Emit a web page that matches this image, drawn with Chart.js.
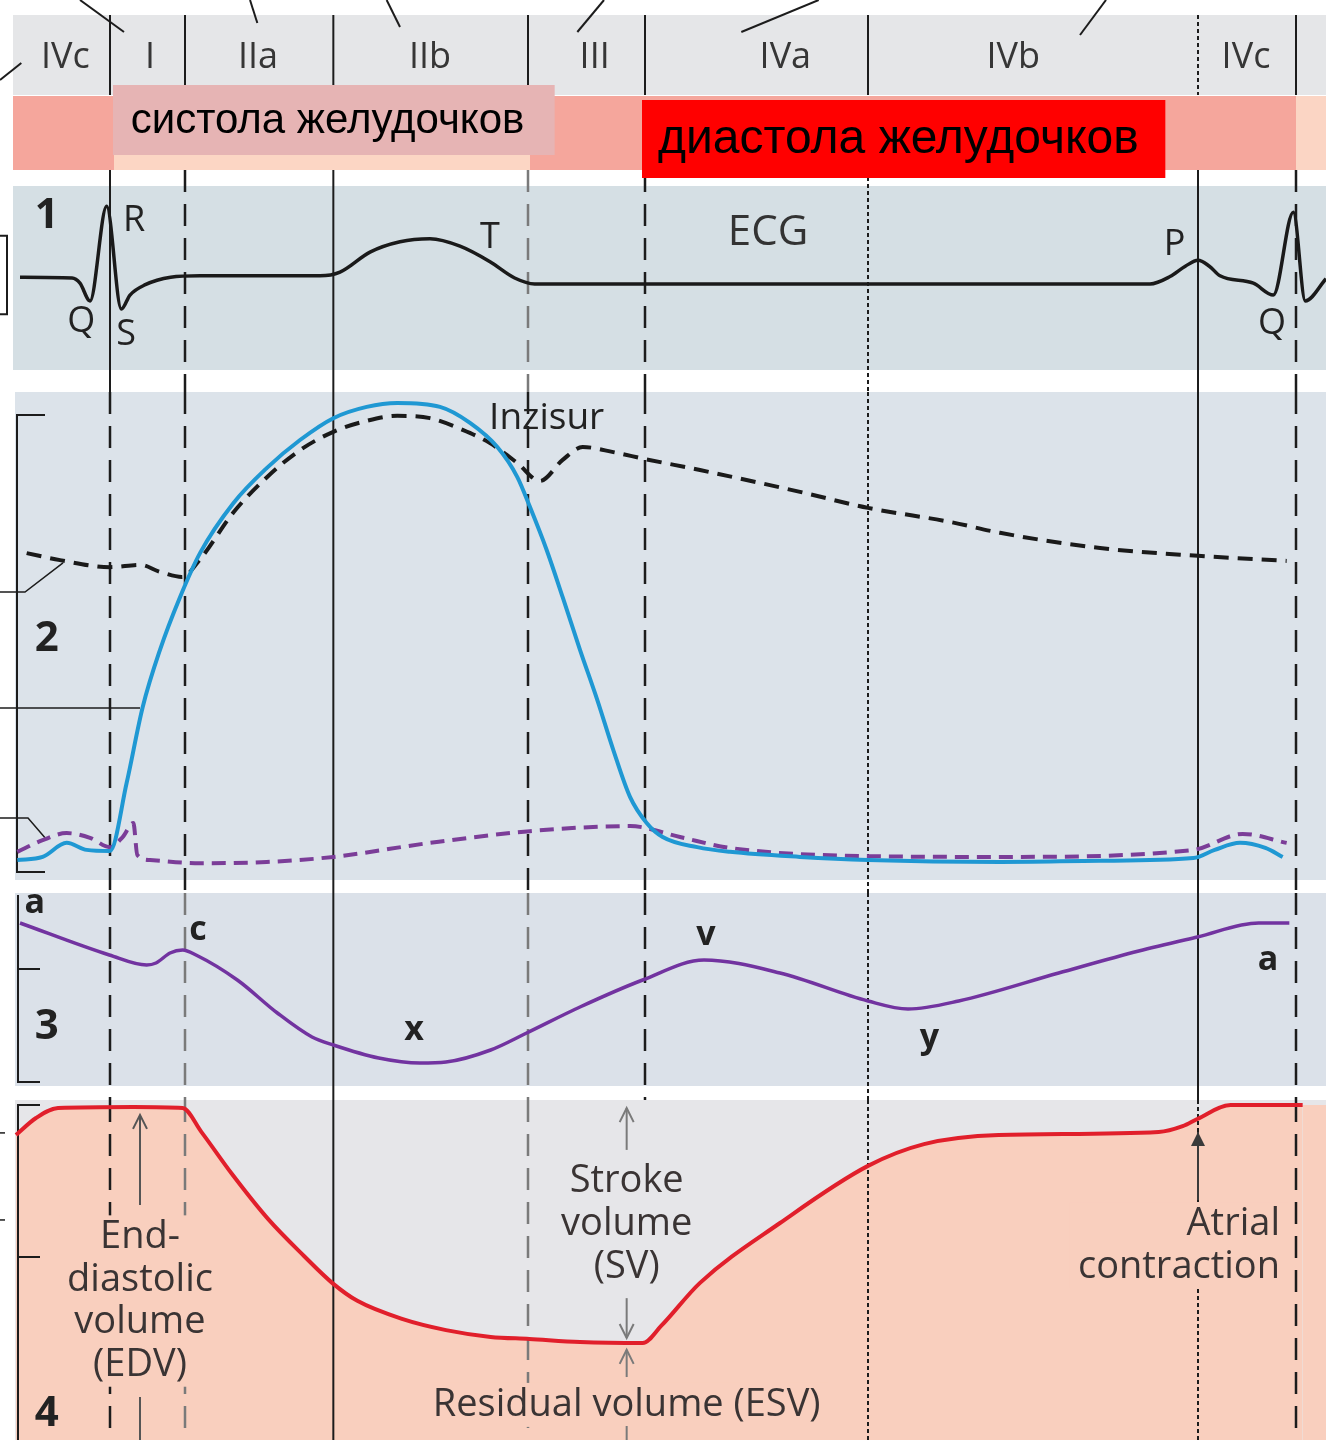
<!DOCTYPE html>
<html>
<head>
<meta charset="utf-8">
<script src="https://cdn.jsdelivr.net/npm/chart.js@4.4.1/dist/chart.umd.min.js"></script>
<style>
  html, body { margin: 0; padding: 0; background: #fff; }
  canvas { display: block; }
</style>
</head>
<body>
<canvas id="wiggers" width="1326" height="1440"></canvas>
<script>
// phases of the cycle, time in ms
const phaseNames = ['IVc', 'I', 'IIa', 'IIb', 'III', 'IVa', 'IVb', 'IVc']
const phaseCentres = [49, 112.5, 193.5, 322.5, 446, 589, 760, 934.5]
const phaseBounds = [82.5, 138.75, 250, 396, 483.75, 651, 898.5, 972]

// 1: ECG (mV)
const ecgTime = [15, 54, 60, 67.5, 80, 91, 97.5, 109, 128, 150, 240, 255, 277.5, 300, 322.5, 345, 367.5, 386, 401, 525, 862.5, 877.5, 889, 898.5, 907, 915, 940, 955, 970, 979, 994.5]
const ecgMv = [0.05, 0.04, -0.03, -0.27, 1.01, -0.38, -0.19, -0.05, 0.05, 0.07, 0.07, 0.12, 0.39, 0.53, 0.57, 0.47, 0.26, 0.04, -0.04, -0.04, -0.04, 0.06, 0.2, 0.28, 0.2, 0.07, -0.03, -0.19, 0.93, -0.27, 0.03]

// 2: pressures (mmHg)
const lvTime = [13, 32, 50, 65, 82.5, 95, 107, 120, 135, 150, 175, 200, 225, 250, 275, 298, 330, 352.5, 373, 388, 397.5, 410, 422, 435, 448, 460, 472.5, 485, 497, 523, 547.5, 600, 651, 750, 825, 895, 911, 930, 949, 962]
const lvPressure = [6.4, 7.2, 10.8, 9.0, 8.7, 26.2, 45.6, 60.3, 73.8, 85.1, 97.9, 106.9, 114.1, 119.7, 122.6, 123.6, 122.6, 118.5, 112.3, 104.6, 96.9, 85.9, 73.8, 60.3, 47.4, 34.6, 22.6, 15.9, 12.3, 9.7, 8.5, 7.2, 6.4, 5.9, 6.2, 6.9, 9.0, 10.8, 9.5, 7.2]

const aortaTime = [20, 45, 82.5, 105, 120, 136.5, 150, 175, 200, 225, 250, 275, 298, 322.5, 347, 367.5, 388, 405, 422, 437, 460, 484, 525, 600, 651, 712.5, 750, 825, 898.5, 965]
const aortaPressure = [85.1, 83.3, 81.5, 82.1, 80.3, 79.0, 83.5, 95.5, 104.5, 111.5, 116.2, 119.0, 120.3, 119.7, 116.7, 113.3, 108.2, 103.6, 109.0, 112.3, 111.0, 109.2, 106.4, 100.8, 96.7, 93.1, 90.3, 86.4, 84.4, 83.1]

const laTime = [13, 32, 50, 67.5, 82.5, 92, 100, 103, 112.5, 150, 200, 250, 322.5, 397.5, 472.5, 510, 547.5, 651, 750, 895, 932, 965]
const laPressure = [8.5, 11.5, 13.3, 12.1, 9.7, 12.3, 15.9, 7.7, 6.4, 5.6, 5.9, 7.2, 10.8, 13.8, 15.1, 12.3, 9.5, 7.4, 7.2, 9.0, 13.1, 10.8]

// 3: atrial pressure (mmHg)
const atrialTime = [15, 82, 110, 117, 127.5, 137, 147, 178, 208, 234, 250, 284, 315, 334.5, 368, 395, 435, 482, 528, 585, 651, 681, 719, 794, 854, 898, 944, 967]
const atrialPressure = [8.85, 7.25, 6.75, 6.85, 7.35, 7.5, 7.25, 6.0, 4.35, 3.15, 2.75, 2.1, 1.85, 1.9, 2.5, 3.35, 4.65, 6.0, 7.0, 6.35, 4.95, 4.55, 4.95, 6.35, 7.45, 8.15, 8.85, 8.85]

// 4: ventricular volume (ml)
const volTime = [12, 27, 43.5, 100.5, 137, 151, 174, 201, 228, 250, 268, 301.5, 334.5, 368, 397, 435, 482, 496, 525, 585, 651, 693, 749, 869, 887, 898, 923, 977, 994.5]
const volMl = [120.6, 125.6, 128.5, 128.8, 128.5, 121.5, 109.1, 95.9, 85.0, 76.8, 71.8, 66.5, 63.2, 61.2, 60.6, 59.7, 59.4, 64.5, 77.1, 94.7, 111.5, 117.9, 120.6, 121.5, 123.2, 125.3, 129.4, 129.4, 129.4]

const pts = (xs, ys) => xs.map((x, i) => ({ x: x, y: ys[i] }))

const X = (c, t) => c.scales.x.getPixelForValue(t)
const Y = (c, id, v) => c.scales[id].getPixelForValue(v)

function rect(ctx, x0, y0, x1, y1, color) {
    ctx.fillStyle = color
    ctx.fillRect(x0, y0, x1 - x0, y1 - y0)
}

function poly(c, id, points, width, color) {
    const ctx = c.ctx
    ctx.setLineDash([])
    ctx.lineWidth = width
    ctx.strokeStyle = color
    ctx.beginPath()
    points.forEach(([t, v], i) => {
        if (i === 0) ctx.moveTo(X(c, t), Y(c, id, v))
        else ctx.lineTo(X(c, t), Y(c, id, v))
    })
    ctx.stroke()
}

function text(ctx, str, x, y, font, color, align = 'center') {
    ctx.font = font
    ctx.fillStyle = color
    ctx.textAlign = align
    ctx.textBaseline = 'middle'
    ctx.fillText(str, x, y)
}

// lines of text, optionally on a patch of background so the phase lines stop there
function textBlock(c, lines, t, id, values, font, color, align, halo) {
    const ctx = c.ctx
    const x = X(c, t)
    const ys = values.map(v => Y(c, id, v))
    ctx.font = font
    if (halo) {
        const w = Math.max(...lines.map(l => ctx.measureText(l).width))
        const x0 = align === 'right' ? x - w : align === 'left' ? x : x - w / 2
        const step = ys.length > 1 ? ys[1] - ys[0] : 44
        rect(ctx, x0 - 8, ys[0] - step / 2, x0 + w + 8, ys[ys.length - 1] + step / 2, halo)
    }
    lines.forEach((l, i) => text(ctx, l, x, ys[i], font, color, align))
}

function arrow(c, t, from, to, color, filled) {
    const ctx = c.ctx
    const x = X(c, t)
    const y0 = Y(c, 'vol', from)
    const y1 = Y(c, 'vol', to)
    const d = y1 < y0 ? 1 : -1
    ctx.setLineDash([])
    ctx.strokeStyle = color
    ctx.fillStyle = color
    ctx.lineWidth = 2
    ctx.beginPath()
    ctx.moveTo(x, y0)
    ctx.lineTo(x, y1)
    ctx.stroke()
    ctx.beginPath()
    ctx.moveTo(x - 7, y1 + 14 * d)
    ctx.lineTo(x, y1)
    ctx.lineTo(x + 7, y1 + 14 * d)
    if (filled) {
        ctx.closePath()
        ctx.fill()
    } else ctx.stroke()
}

const lineStyles = {
    solid: { dash: [], width: 2, color: '#1c1c1c' },
    dash: { dash: [22, 12], width: 2.5, color: '#1c1c1c' },
    grey: { dash: [22, 12], width: 2.5, color: '#7a7a7a' },
    dot: { dash: [4, 3], width: 2, color: '#1c1c1c' }
}
// per phase boundary: header, ECG, pressure, atrial, volume
const boundaryStyles = [
    ['solid', 'solid', 'dash', 'dash', 'dash'],
    ['solid', 'dash', 'dash', 'grey', 'grey'],
    ['solid', 'solid', 'solid', 'solid', 'solid'],
    ['solid', 'grey', 'dash', 'grey', 'grey'],
    ['solid', 'dash', 'dash', 'dash', null],
    ['solid', 'dot', 'dot', 'dot', 'dot'],
    ['dot', 'solid', 'solid', 'solid', 'dot'],
    ['solid', 'dash', 'dash', 'dash', 'dash']
]

const salmon = '#f9cfbe'
const ink = '#3a3434'
const labelFont = '"Open Sans", "DejaVu Sans", sans-serif'

const figure = {
    id: 'figure',
    beforeDraw(c) {
        const ctx = c.ctx
        const s = c.scales
        const right = c.width
        ctx.save()
        rect(ctx, 0, 0, right, c.height, '#ffffff')
        rect(ctx, X(c, 9.75), Y(c, 'head', 15), right, Y(c, 'head', 95), '#e5e6e8')
        rect(ctx, X(c, 9.75), Y(c, 'head', 96), X(c, 972), Y(c, 'head', 170), '#f5a69c')
        rect(ctx, X(c, 972), Y(c, 'head', 96), right, Y(c, 'head', 170), '#fbd5c4')
        rect(ctx, X(c, 85.5), Y(c, 'head', 155), X(c, 397.5), Y(c, 'head', 170), '#fcd6c4')
        rect(ctx, X(c, 9.75), s.ecg.top, right, s.ecg.bottom, '#d5dfe4')
        rect(ctx, X(c, 11.25), s.press.top, right, s.press.bottom, '#dce3ea')
        rect(ctx, X(c, 11.25), s.atrial.top, right, s.atrial.bottom, '#dbe1e9')
        rect(ctx, X(c, 11.25), s.vol.top, right, s.vol.bottom, '#e6e6e9')
        ctx.restore()
    },
    beforeDatasetsDraw(c) {
        const ctx = c.ctx
        const s = c.scales
        const rows = [
            [Y(c, 'head', 15), Y(c, 'head', 95)],
            [Y(c, 'head', 170), s.press.top],
            [s.press.top, s.atrial.top],
            [s.atrial.top, s.vol.top],
            [s.vol.top, c.height]
        ]
        ctx.save()
        phaseBounds.forEach((t, i) => {
            const x = X(c, t)
            boundaryStyles[i].forEach((name, r) => {
                if (!name) return
                const st = lineStyles[name]
                ctx.setLineDash(st.dash)
                ctx.lineWidth = st.width
                ctx.strokeStyle = st.color
                ctx.beginPath()
                ctx.moveTo(x, rows[r][0])
                ctx.lineTo(x, rows[r][1])
                ctx.stroke()
            })
        })

        // leader lines from the cut-off labels above
        const lead = '#1c1c1c'
        poly(c, 'head', [[60, 0], [93, 32]], 2, lead)
        poly(c, 'head', [[187.5, 0], [193, 23]], 2, lead)
        poly(c, 'head', [[290, 0], [300, 27]], 2, lead)
        poly(c, 'head', [[453, 0], [433, 32]], 2, lead)
        poly(c, 'head', [[614, 0], [556, 32]], 2, lead)
        poly(c, 'head', [[829.5, 0], [810, 35]], 2, lead)
        poly(c, 'head', [[0, 80], [16, 63]], 2, lead)

        // left brackets and leaders
        poly(c, 'ecg', [[0, 0.61], [5.25, 0.61], [5.25, -0.45], [0, -0.45]], 2, lead)
        poly(c, 'press', [[33.75, 120.5], [12.75, 120.5], [12.75, 3.3], [33.75, 3.3]], 2, lead)
        poly(c, 'press', [[0, 75.1], [18.75, 75.1], [47.25, 82.6]], 1.5, lead)
        poly(c, 'press', [[0, 45.4], [105, 45.4]], 1.5, lead)
        poly(c, 'press', [[0, 17.2], [21, 17.2], [33.75, 12.1]], 1.5, lead)
        poly(c, 'atrial', [[13.5, 10.25], [13.5, 0.9], [30, 0.9]], 2, lead)
        poly(c, 'atrial', [[13.5, 6.55], [30, 6.55]], 2, lead)
        poly(c, 'vol', [[30, 129.4], [13.5, 129.4], [13.5, 30.88]], 2, lead)
        poly(c, 'vol', [[13.5, 84.7], [30, 84.7]], 2, lead)
        poly(c, 'vol', [[0, 121.2], [3.75, 121.2]], 1.5, lead)
        poly(c, 'vol', [[0, 95.6], [3.75, 95.6]], 1.5, lead)
        ctx.restore()
    },
    afterDatasetsDraw(c) {
        const ctx = c.ctx
        ctx.save()

        // header
        rect(ctx, X(c, 84.75), Y(c, 'head', 85), X(c, 416), Y(c, 'head', 155), '#e6b4b4')
        text(ctx, 'систола желудочков', X(c, 98), Y(c, 'head', 121), '42px "Liberation Sans", Arial, sans-serif', '#000', 'left')
        rect(ctx, X(c, 481.5), Y(c, 'head', 100), X(c, 874), Y(c, 'head', 178), '#ff0000')
        text(ctx, 'диастола желудочков', X(c, 493.5), Y(c, 'head', 140), '48px "Liberation Sans", Arial, sans-serif', '#000', 'left')
        phaseNames.forEach((n, i) => text(ctx, n, X(c, phaseCentres[i]), Y(c, 'head', 58), '36px ' + labelFont, '#363636'))

        // panel numbers
        const num = 'bold 42px ' + labelFont
        text(ctx, '1', X(c, 35), Y(c, 'ecg', 0.88), num, '#222')
        text(ctx, '2', X(c, 35), Y(c, 'press', 63.1), num, '#222')
        text(ctx, '3', X(c, 35), Y(c, 'atrial', 3.65), num, '#222')
        text(ctx, '4', X(c, 35), Y(c, 'vol', 38.5), num, '#222')

        // ECG
        const f36 = '36px ' + labelFont
        text(ctx, 'R', X(c, 100.5), Y(c, 'ecg', 0.81), f36, '#222')
        text(ctx, 'Q', X(c, 61), Y(c, 'ecg', -0.55), f36, '#222')
        text(ctx, 'S', X(c, 94.5), Y(c, 'ecg', -0.72), f36, '#222')
        text(ctx, 'T', X(c, 367.5), Y(c, 'ecg', 0.58), f36, '#222')
        text(ctx, 'P', X(c, 881), Y(c, 'ecg', 0.49), f36, '#222')
        text(ctx, 'Q', X(c, 954), Y(c, 'ecg', -0.58), f36, '#222')
        text(ctx, 'ECG', X(c, 576), Y(c, 'ecg', 0.65), '42px ' + labelFont, '#333')

        // pressure
        text(ctx, 'Inzisur', X(c, 410), Y(c, 'press', 119.7), '37px ' + labelFont, '#222')

        // atrial wave
        const fb = 'bold 34px ' + labelFont
        text(ctx, 'a', X(c, 26), Y(c, 'atrial', 9.85), fb, '#222')
        text(ctx, 'c', X(c, 148.5), Y(c, 'atrial', 8.5), fb, '#222')
        text(ctx, 'x', X(c, 310.5), Y(c, 'atrial', 3.5), fb, '#222')
        text(ctx, 'v', X(c, 529.5), Y(c, 'atrial', 8.25), fb, '#222')
        text(ctx, 'y', X(c, 697), Y(c, 'atrial', 3.1), fb, '#222')
        text(ctx, 'a', X(c, 951), Y(c, 'atrial', 7.0), fb, '#222')

        // volume
        const f38 = '38px ' + labelFont
        textBlock(c, ['End-', 'diastolic', 'volume', '(EDV)'], 105, 'vol', [90.6, 77.9, 65.6, 52.9], f38, ink, 'center', salmon)
        textBlock(c, ['Stroke', 'volume', '(SV)'], 470, 'vol', [107.1, 94.4, 81.8], f38, ink, 'center', null)
        textBlock(c, ['Residual volume (ESV)'], 470, 'vol', [41.2], f38, ink, 'center', salmon)
        textBlock(c, ['Atrial', 'contraction'], 960, 'vol', [94.4, 81.8], f38, ink, 'right', salmon)

        arrow(c, 105, 100, 126.5, '#555', false)
        poly(c, 'vol', [[105, 43.5], [105, 30.88]], 2, '#555')
        arrow(c, 470, 116.2, 128.5, '#7a7a7a', false)
        arrow(c, 470, 72.6, 60.9, '#7a7a7a', false)
        arrow(c, 470, 49.4, 57.4, '#7a7a7a', false)
        poly(c, 'vol', [[470, 35], [470, 30.88]], 2, '#7a7a7a')
        arrow(c, 898.5, 101.5, 121.5, '#3a3a3a', true)

        ctx.restore()
    }
}

const lastVol = volTime.length - 2

new Chart(document.getElementById('wiggers'), {
    type: 'line',
    data: {
        datasets: [
            { data: pts(lvTime, lvPressure), yAxisID: 'press', borderColor: '#1f98d3', borderWidth: 4 },
            { data: pts(aortaTime, aortaPressure), yAxisID: 'press', borderColor: '#1a1a1a', borderWidth: 4, borderDash: [15, 9] },
            { data: pts(laTime, laPressure), yAxisID: 'press', borderColor: '#7b3d98', borderWidth: 4, borderDash: [14, 8] },
            { data: pts(ecgTime, ecgMv), yAxisID: 'ecg', borderColor: '#1a1a1a', borderWidth: 3.5 },
            { data: pts(atrialTime, atrialPressure), yAxisID: 'atrial', borderColor: '#7233a0', borderWidth: 3.5 },
            {
                data: pts(volTime, volMl),
                yAxisID: 'vol',
                borderColor: '#e11f2b',
                borderWidth: 4,
                fill: 'start',
                backgroundColor: salmon,
                segment: { borderColor: ctx => ctx.p0DataIndex === lastVol ? 'rgba(0,0,0,0)' : '#e11f2b' }
            }
        ]
    },
    options: {
        responsive: false,
        animation: false,
        devicePixelRatio: 1,
        layout: { padding: 0 },
        elements: {
            point: { radius: 0, hoverRadius: 0 },
            line: { cubicInterpolationMode: 'monotone', borderJoinStyle: 'round', fill: false }
        },
        plugins: {
            legend: { display: false },
            tooltip: { enabled: false },
            filler: { drawTime: 'beforeDatasetsDraw' }
        },
        scales: {
            x: { type: 'linear', min: 0, max: 994.5, display: false },
            head: { position: 'right', stack: 'rows', stackWeight: 186, min: 0, max: 186, reverse: true, display: false },
            ecg: { position: 'right', stack: 'rows', stackWeight: 184, min: -1.203, max: 1.284, display: false },
            gap1: { position: 'right', stack: 'rows', stackWeight: 22, min: 0, max: 1, display: false },
            press: { position: 'right', stack: 'rows', stackWeight: 488, min: 1.28, max: 126.41, display: false },
            gap2: { position: 'right', stack: 'rows', stackWeight: 13, min: 0, max: 1, display: false },
            atrial: { position: 'right', stack: 'rows', stackWeight: 193, min: 0.7, max: 10.35, display: false },
            gap3: { position: 'right', stack: 'rows', stackWeight: 14, min: 0, max: 1, display: false },
            vol: { position: 'right', stack: 'rows', stackWeight: 340, min: 30.88, max: 130.88, display: false }
        }
    },
    plugins: [figure]
})
</script>
</body>
</html>
